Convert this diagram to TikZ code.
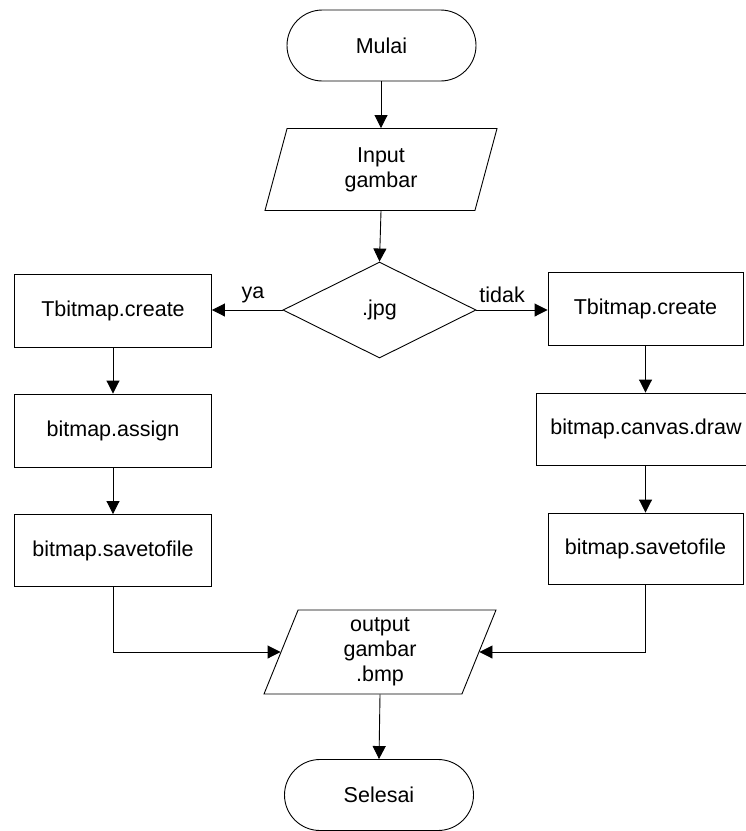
\documentclass[tikz,border=0pt]{standalone}
\usepackage{fontspec}
\setmainfont{Liberation Sans}
\usetikzlibrary{shapes.geometric,shapes.misc,arrows.meta}

\begin{document}
\begin{tikzpicture}[x=1pt,y=-1pt,
  font=\fontsize{21.5}{25}\selectfont,
  every node/.style={inner sep=0pt},
  line/.style={draw=black,line width=0.9pt},
  arrowline/.style={line, -{Triangle[length=13pt,width=13pt]}},
  terminal/.style={line, rounded rectangle, minimum width=189pt, minimum height=71pt},
  io/.style={line, trapezium, trapezium left angle=63.5, trapezium right angle=116.5,
             trapezium stretches body, minimum width=232pt, minimum height=82pt, align=center},
  decision/.style={line, diamond, minimum width=193pt, minimum height=96pt},
  process/.style={line, rectangle, minimum width=197pt, minimum height=73pt},
  lbl/.style={fill=none}
]
\useasboundingbox (0,0) rectangle (746,831);

% start / input / decision
\node[terminal] (start) at (381.5,45.5) {Mulai};
\node[io] (inp) at (381,169.5) {Input\\gambar};
\node[decision] (dec) at (379.5,310) {.jpg};

% left branch
\node[process] (l1) at (113,310.5) {Tbitmap.create};
\node[process] (l2) at (113,430.5) {bitmap.assign};
\node[process, minimum height=72pt] (l3) at (113,550.5) {bitmap.savetofile};

% right branch (the wide middle box runs past the right margin)
\node[process, minimum width=195pt] (r1) at (645.5,308.5) {Tbitmap.create};
\node[process, minimum width=224pt, minimum height=72pt, text width=190pt, align=center] (r2) at (648,429) {\hspace*{-4pt}bitmap.canvas.draw};
\node[process, minimum width=195pt, minimum height=71pt] (r3) at (645.5,548.5) {bitmap.savetofile};

% output / end
\node[io, minimum height=84pt] (out) at (380,652) {output\\gambar\\.bmp};
\node[terminal] (end) at (379,795) {Selesai};

% connectors
\draw[arrowline] (start.south -| inp.north) -- (inp.north);
\draw[arrowline] (inp.south) -- (dec.north);
\draw[arrowline] (dec.west) -- node[lbl, pos=0.42, yshift=15pt] {ya} (dec.west -| l1.east);
\draw[arrowline] (dec.east) -- node[lbl, pos=0.36, yshift=15pt] {tidak} (dec.east -| r1.west);
\draw[arrowline] (l1) -- (l2);
\draw[arrowline] (l2.south) -- (l2.south |- l3.north);
\draw[arrowline] (r1.south) -- (r1.south |- r2.north);
\draw[arrowline] (r1.south |- r2.south) -- (r3.north);
\draw[arrowline] (l3.south) |- (out.west);
\draw[arrowline] (r3.south) |- (out.east);
\draw[arrowline] (out.south) -- (end.north);
\end{tikzpicture}
\end{document}
